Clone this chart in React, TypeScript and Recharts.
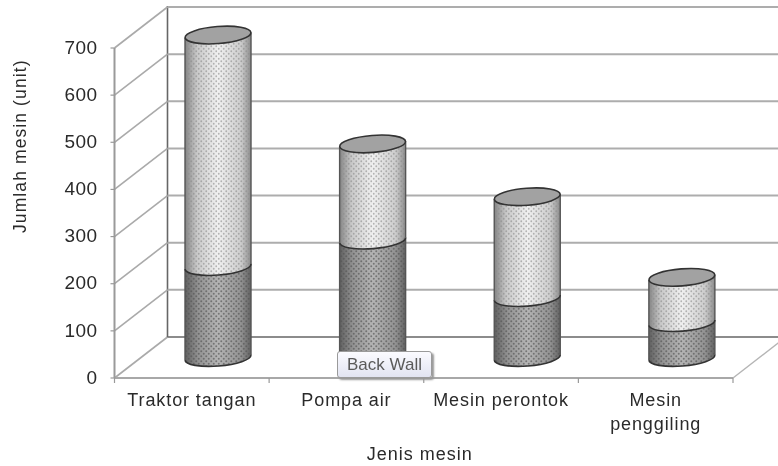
import { BarChart, Bar, XAxis, YAxis, CartesianGrid, Label } from 'recharts'

const categories = ['Traktor tangan', 'Pompa air', 'Mesin perontok', 'Mesin penggiling']
const lowerValues = [193, 249, 127, 74]
const upperValues = [491, 204, 214, 96]
const yTicks = [0, 100, 200, 300, 400, 500, 600, 700]

const chartData = categories.map((name, i) => ({
  name,
  lower: lowerValues[i],
  upper: upperValues[i],
}))

const WIDTH = 778
const HEIGHT = 466
const MARGIN = { top: 48, right: 45, bottom: 0, left: 0 }
const AXIS_WIDTH = 114.5
const AXIS_HEIGHT = 88
const PLOT_BOTTOM = HEIGHT - AXIS_HEIGHT
const BAND = (WIDTH - AXIS_WIDTH - MARGIN.right) / categories.length

// oblique depth of the fake 3d box
const DEPTH_X = 53
const DEPTH_Y = 41
const RY = 8.5
const TILT = 2.6
const FONT = '"Liberation Sans", Arial, sans-serif'

function cylinderPath(x: number, w: number, top: number, bottom: number) {
  const rx = w / 2
  const l = x
  const r = x + w
  return (
    `M${l} ${top + TILT} L${l} ${bottom + TILT} ` +
    `A${rx} ${RY} -4.5 0 0 ${r} ${bottom - TILT} ` +
    `L${r} ${top - TILT} ` +
    `A${rx} ${RY} -4.5 0 1 ${l} ${top + TILT} Z`
  )
}

function Cylinder(props: any, kind: 'lower' | 'upper') {
  const w = props.width
  const x = props.x + DEPTH_X / 2
  const top = props.y - DEPTH_Y / 2
  const bottom = top + props.height
  const rx = w / 2
  const d = cylinderPath(x, w, top, bottom)
  return (
    <g>
      <path d={d} fill={`url(#shade-${kind})`} />
      <path d={d} fill={`url(#dots-${kind})`} />
      <path
        d={`M${x} ${bottom + TILT} A${rx} ${RY} -4.5 0 0 ${x + w} ${bottom - TILT}`}
        fill="none"
        stroke="#333"
        strokeWidth={1.6}
      />
      <path d={`M${x} ${top + TILT} L${x} ${bottom + TILT} M${x + w} ${top - TILT} L${x + w} ${bottom - TILT}`} stroke="#555" strokeWidth={1.4} />
      {kind === 'upper' && (
        <ellipse
          cx={x + rx}
          cy={top}
          rx={rx}
          ry={RY}
          transform={`rotate(-4.5 ${x + rx} ${top})`}
          fill="#a2a2a2"
          stroke="#333"
          strokeWidth={1.6}
        />
      )}
    </g>
  )
}

// every horizontal grid line becomes: side wall diagonal + back wall line
function WallLine(props: any) {
  const { x1, y1 } = props
  const bx = x1 + DEPTH_X
  const by = y1 - DEPTH_Y
  const isFloor = Math.abs(y1 - PLOT_BOTTOM) < 1
  return (
    <g key={props.key}>
      <line x1={x1} y1={y1} x2={bx} y2={by} stroke="#aaa" strokeWidth={1.6} />
      <line x1={bx} y1={by} x2={WIDTH} y2={by} stroke={isFloor ? '#666' : '#adadad'} strokeWidth={isFloor ? 1.6 : 2} />
      {isFloor && (
        <>
          <line x1={bx} y1={by} x2={bx} y2={by - 331} stroke="#666" strokeWidth={1.6} />
          <line x1={WIDTH - MARGIN.right} y1={y1} x2={WIDTH - MARGIN.right + DEPTH_X} y2={by} stroke="#b5b5b5" strokeWidth={1.4} />
        </>
      )}
    </g>
  )
}

function CategoryTick(props: any) {
  const { x, y, payload, index } = props
  const value: string = payload.value
  const lines = value.length > 15 ? value.split(' ') : [value]
  return (
    <g>
      <line x1={x + BAND / 2} y1={PLOT_BOTTOM} x2={x + BAND / 2} y2={PLOT_BOTTOM + 5} stroke="#999" strokeWidth={1.2} />
      {index === 0 && <line x1={x - BAND / 2} y1={PLOT_BOTTOM} x2={x - BAND / 2} y2={PLOT_BOTTOM + 5} stroke="#999" strokeWidth={1.2} />}
      <text x={x} y={y} textAnchor="middle" fontFamily={FONT} fontSize={18} letterSpacing={0.9} fill="#2a2a2a">
        {lines.map((line, i) => (
          <tspan key={line} x={x} dy={i === 0 ? 20 : 23.5}>
            {line}
          </tspan>
        ))}
      </text>
    </g>
  )
}

export default function App() {
  return (
    <div style={{ position: 'absolute', left: 0, top: 0, width: WIDTH, height: HEIGHT, background: '#fff', filter: 'blur(0.45px)' }}>
      <BarChart width={WIDTH} height={HEIGHT} data={chartData} margin={MARGIN}>
        <defs>
          <linearGradient id="shade-upper" x1="0" y1="0" x2="1" y2="0">
            <stop offset="0" stopColor="#858585" />
            <stop offset="0.18" stopColor="#c8c8c8" />
            <stop offset="0.5" stopColor="#f0f0f0" />
            <stop offset="0.85" stopColor="#cccccc" />
            <stop offset="1" stopColor="#8c8c8c" />
          </linearGradient>
          <linearGradient id="shade-lower" x1="0" y1="0" x2="1" y2="0">
            <stop offset="0" stopColor="#606060" />
            <stop offset="0.2" stopColor="#929292" />
            <stop offset="0.5" stopColor="#b4b4b4" />
            <stop offset="0.85" stopColor="#929292" />
            <stop offset="1" stopColor="#626262" />
          </linearGradient>
          <pattern id="dots-upper" width="5" height="5" patternUnits="userSpaceOnUse">
            <circle cx="1.25" cy="1.25" r="0.9" fill="#8a8a8a" opacity="0.6" />
            <circle cx="3.75" cy="3.75" r="0.9" fill="#8a8a8a" opacity="0.6" />
          </pattern>
          <pattern id="dots-lower" width="5" height="5" patternUnits="userSpaceOnUse">
            <circle cx="1.25" cy="1.25" r="1" fill="#555" opacity="0.65" />
            <circle cx="3.75" cy="3.75" r="1" fill="#555" opacity="0.65" />
          </pattern>
        </defs>
        <CartesianGrid horizontal={WallLine} vertical={false} />
        <XAxis
          dataKey="name"
          height={AXIS_HEIGHT}
          interval={0}
          tick={CategoryTick}
          tickLine={false}
          axisLine={{ stroke: '#a8a8a8', strokeWidth: 2 }}
        >
          <Label value="Jenis mesin" position="insideBottom" offset={6} dx={-4} style={{ fontFamily: FONT, fontSize: 18, letterSpacing: 1, fill: '#2a2a2a' }} />
        </XAxis>
        <YAxis
          type="number"
          width={AXIS_WIDTH}
          domain={[0, 700]}
          ticks={yTicks}
          interval={0}
          tickSize={4}
          tickMargin={13}
          tick={{ fontFamily: FONT, fontSize: 19, letterSpacing: 0.4, fill: '#2a2a2a', dy: -1 }}
          tickLine={{ stroke: '#999', strokeWidth: 1.2 }}
          axisLine={{ stroke: '#9a9a9a', strokeWidth: 2 }}
        >
          <Label value="Jumlah mesin (unit)" angle={-90} position="insideLeft" offset={20} dy={20} style={{ fontFamily: FONT, fontSize: 17.5, letterSpacing: 1.1, fill: '#2a2a2a' }} />
        </YAxis>
        <Bar dataKey="lower" stackId="a" barSize={66} isAnimationActive={false} shape={(p: any) => Cylinder(p, 'lower')} />
        <Bar dataKey="upper" stackId="a" barSize={66} isAnimationActive={false} shape={(p: any) => Cylinder(p, 'upper')} />
      </BarChart>
      <div
        style={{
          position: 'absolute',
          left: 337,
          top: 351,
          width: 95,
          height: 27,
          boxSizing: 'border-box',
          border: '1px solid #9a9a9a',
          borderRadius: 3,
          background: 'linear-gradient(#fbfbff, #e2e4f2)',
          boxShadow: '2px 2px 2px #999',
          fontFamily: FONT,
          fontSize: 17,
          lineHeight: '25px',
          textAlign: 'center',
          color: '#5a5a5a',
        }}
      >
        Back Wall
      </div>
    </div>
  )
}
